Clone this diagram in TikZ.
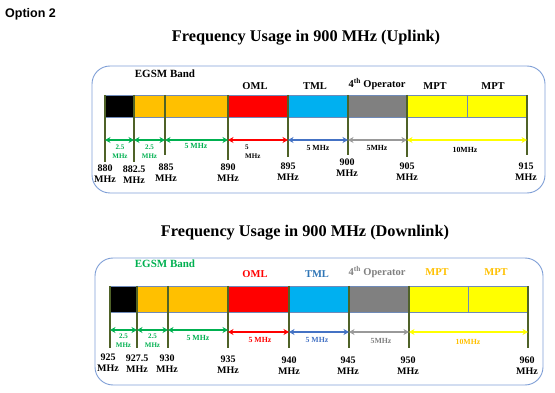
\documentclass[tikz,border=0pt]{standalone}
\usepackage{fontspec}
\setmainfont{Liberation Serif}
\newfontfamily\arialf{Liberation Sans}
\usetikzlibrary{arrows.meta}
\definecolor{cOrange}{HTML}{FFC000}
\definecolor{cRed}{HTML}{FF0000}
\definecolor{cBlue}{HTML}{00B0F0}
\definecolor{cGray}{HTML}{808080}
\definecolor{cYellow}{HTML}{FFFF00}
\definecolor{cGreen}{HTML}{00B050}
\definecolor{cArrBlue}{HTML}{4472C4}
\definecolor{cTxtBlue}{HTML}{2E75B6}
\definecolor{cArrGray}{HTML}{999999}
\definecolor{cTick}{HTML}{4F6228}
\definecolor{cPanel}{HTML}{7F9FD6}
\definecolor{cBarLine}{HTML}{6F8AB8}
\definecolor{cGold}{HTML}{FFC000}
\tikzset{
  panel/.style={draw=cPanel, line width=0.9pt, rounded corners=18pt},
  seg/.style={draw=cBarLine, line width=0.5pt},
  tickline/.style={draw=cTick, line width=1.3pt},
  arr/.style={{Stealth[length=5.5pt,width=6pt]}-{Stealth[length=5.5pt,width=6pt]}, line width=1.5pt},
  freq/.style={inner sep=0pt, align=center, font=\fontsize{10}{11}\selectfont\bfseries},
  small/.style={inner sep=0pt, align=center, font=\fontsize{7}{9}\selectfont\bfseries},
  mid/.style={inner sep=0pt, align=center, font=\fontsize{7.8}{9}\selectfont\bfseries},
  head/.style={inner sep=0pt, font=\fontsize{10.5}{12}\selectfont\bfseries},
  title/.style={inner sep=0pt, font=\fontsize{16.3}{18}\selectfont\bfseries},
}
\begin{document}
\begin{tikzpicture}[x=1pt,y=-1pt]
\useasboundingbox (0,0) rectangle (555,393);
% header
\node[inner sep=0pt, anchor=west, font=\arialf\fontsize{12.5}{14}\selectfont\bfseries] (opt) at (5,14) {Option 2};
\node[title] (t1) at (306,38) {Frequency Usage in 900 MHz (Uplink)};
\node[title] (t2) at (305,233) {Frequency Usage in 900 MHz (Downlink)};

% ================= UPLINK =================
\draw[panel] (92,66) rectangle (545,193);
\def\uT{95}\def\uB{117}
\fill[black] (105,\uT) rectangle (134,\uB);
\draw[seg] (105,\uT) rectangle (134,\uB);
\filldraw[seg, fill=cOrange] (134,\uT) rectangle (228,\uB);
\filldraw[seg, fill=cRed] (228,\uT) rectangle (288,\uB);
\filldraw[seg, fill=cBlue] (288,\uT) rectangle (348,\uB);
\filldraw[seg, fill=cGray] (348,\uT) rectangle (407,\uB);
\filldraw[seg, fill=cYellow] (407,\uT) rectangle (467,\uB);
\filldraw[seg, fill=cYellow] (467,\uT) rectangle (527,\uB);
\foreach \x/\b [count=\i] in {105/162,134/162,165/155,228/160,288/157,348/155,407/157,527/155}{
  \coordinate (ut\i) at (\x,\uT);
  \coordinate (ub\i) at (\x,\b);
  \coordinate (ua\i) at (\x,140);
  \draw[tickline] (ut\i) -- (ub\i);
}
\draw[arr, cGreen] (ua1) -- (ua2);
\draw[arr, cGreen] (ua2) -- (ua3);
\draw[arr, cGreen] (ua3) -- (ua4);
\draw[arr, cRed] (ua4) -- (ua5);
\draw[arr, cArrBlue] (ua5) -- (ua6);
\draw[arr, cArrGray] (ua6) -- (ua7);
\draw[arr, cYellow] (ua7) -- (ua8);
\node[small, text=cGreen] (ul1) at (120,152) {2.5\\MHz};
\node[small, text=cGreen] (ul2) at (149.5,152) {2.5\\MHz};
\node[mid, text=cGreen] (ul3) at (196,146) {5 MHz};
\node[small, align=left, anchor=west] (ul4) at (245,152) {5\\MHz};
\node[mid] (ul5) at (318,148) {5 MHz};
\node[mid] (ul6) at (377,148) {5MHz};
\node[mid] (ul7) at (465,150) {10MHz};
\foreach \x/\y/\t [count=\i] in {105/173.5/880,134/174.5/882.5,166/172.5/885,228/172.5/890,288/171.5/895,347/167.5/900,407/171.5/905,526/171.5/915}{
  \node[freq] (uf\i) at (\x,\y) {\t\\MHz};
}
\node[head, font=\fontsize{11}{12}\selectfont\bfseries] (uh1) at (165,74) {EGSM Band};
\node[head] (uh2) at (255,86) {OML};
\node[head] (uh3) at (315,86) {TML};
\node[head] (uh4) at (377,84) {4\textsuperscript{th} Operator};
\node[head] (uh5) at (435,86) {MPT};
\node[head] (uh6) at (493,86) {MPT};

% ================= DOWNLINK =================
\draw[panel] (95,258) rectangle (543,385);
\def\dT{286}\def\dB{312}
\fill[black] (110,\dT) rectangle (137,\dB);
\draw[seg] (110,\dT) rectangle (137,\dB);
\filldraw[seg, fill=cOrange] (137,\dT) rectangle (228,\dB);
\filldraw[seg, fill=cRed] (228,\dT) rectangle (289,\dB);
\filldraw[seg, fill=cBlue] (289,\dT) rectangle (349,\dB);
\filldraw[seg, fill=cGray] (349,\dT) rectangle (409,\dB);
\filldraw[seg, fill=cYellow] (409,\dT) rectangle (468,\dB);
\filldraw[seg, fill=cYellow] (468,\dT) rectangle (528,\dB);
\foreach \x [count=\i] in {110,137,168,228,289,349,409,528}{
  \coordinate (dt\i) at (\x,\dT);
  \coordinate (db\i) at (\x,348);
  \draw[tickline] (dt\i) -- (db\i);
}
\foreach \x [count=\i] in {110,137,168,228}{\coordinate (da\i) at (\x,330);}
\coordinate (db4a) at (228,332);
\foreach \x [count=\i from 5] in {289,349,409,528}{\coordinate (da\i) at (\x,332);}
\draw[arr, cGreen] (da1) -- (da2);
\draw[arr, cGreen] (da2) -- (da3);
\draw[arr, cGreen] (da3) -- (da4);
\draw[arr, cRed] (db4a) -- (da5);
\draw[arr, cArrBlue] (da5) -- (da6);
\draw[arr, cArrGray] (da6) -- (da7);
\draw[arr, cYellow] (da7) -- (da8);
\node[small, text=cGreen] (dl1) at (123.5,341) {2.5\\MHz};
\node[small, text=cGreen] (dl2) at (152.5,341) {2.5\\MHz};
\node[mid, text=cGreen] (dl3) at (198,338) {5 MHz};
\node[mid, text=cRed] (dl4) at (260,340) {5 MHz};
\node[mid, text=cArrBlue] (dl5) at (317,340) {5 MHz};
\node[mid, text=cGray] (dl6) at (381,341) {5MHz};
\node[mid, text=cGold] (dl7) at (468,342) {10MHz};
\foreach \x/\y/\t [count=\i] in {108/362.5/925,137/364/927.5,167/364/930,228/365/935,289/366/940,348/366/945,408/366/950,527/366/960}{
  \node[freq] (df\i) at (\x,\y) {\t\\MHz};
}
\node[head, text=cGreen, font=\fontsize{11}{12}\selectfont\bfseries] (dh1) at (165,264) {EGSM Band};
\node[head, text=cRed] (dh2) at (255,274) {OML};
\node[head, text=cTxtBlue] (dh3) at (317,274) {TML};
\node[head, text=cGray] (dh4) at (377,272) {4\textsuperscript{th} Operator};
\node[head, text=cGold] (dh5) at (437,272) {MPT};
\node[head, text=cGold] (dh6) at (496,272) {MPT};
\end{tikzpicture}
\end{document}
